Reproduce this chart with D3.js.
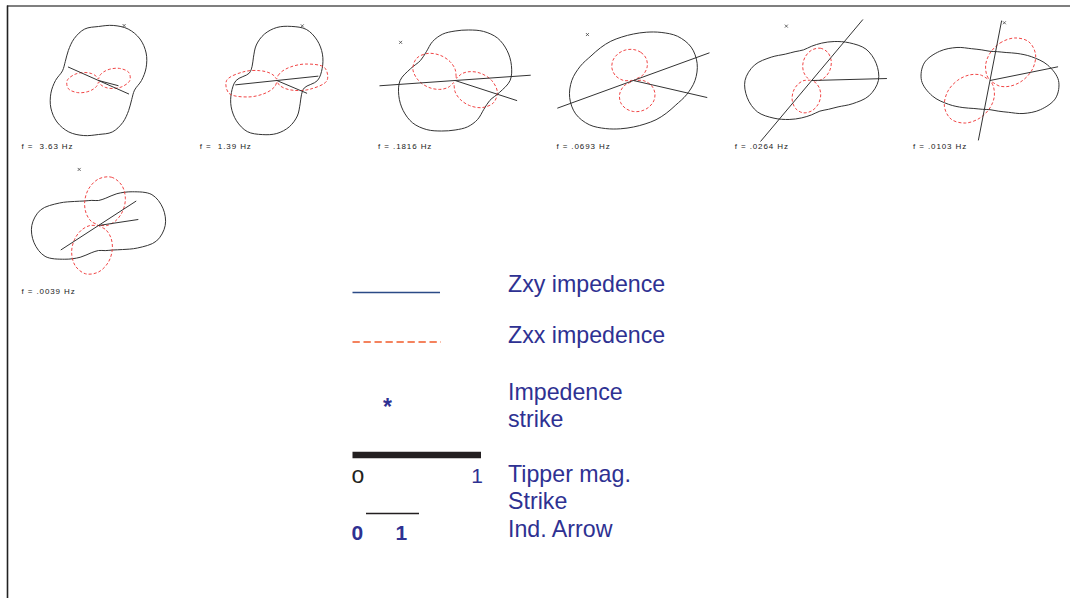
<!DOCTYPE html>
<html><head><meta charset="utf-8">
<script src="https://cdn.jsdelivr.net/npm/d3@7"></script>
<style>html,body{margin:0;padding:0;background:#fff;} svg{display:block;} text.pre{white-space:pre;}</style>
</head><body>
<svg id="chart" width="1070" height="598"></svg>
<script>
// ---- data ----
const freqLabels = ["f =  3.63 Hz","f =  1.39 Hz","f = .1816 Hz","f = .0693 Hz","f = .0264 Hz","f = .0103 Hz","f = .0039 Hz"];
// polar sample directions (degrees clockwise from north); diagrams repeat every 180 deg
const sampleAngles = [0,15,30,45,60,75,90,105,120,135,150,165];
const zxyRadius = [
  [54,57,59.4,58.7,55,49.3,43,37.3,38.3,42.6,48.5,53.3],
  [53,56,59,57,52.7,47,40.7,28.5,28.5,33,41,48],
  [49.5,52.3,56.7,60,60,58.3,55,46,40,40.7,45,48],
  [46.5,50,55.5,62.5,66.7,66,61.6,55,49,46.4,45.3,45],
  [34.3,38.7,45,53.3,62.7,66.7,66.7,59.3,46.7,37.3,33.3,31.7],
  [29.2,29.8,32.3,38.3,47.7,59.7,68.5,68,58.3,46.7,36.7,31.7],
  [25,28.3,36.7,47.7,61.7,66.7,66.7,60,45,34,28.3,26]
];
const zxxRadius = [
  [1.6,5.2,9.75,16.0,24.2,31.3,31.3,24.2,16.0,9.75,5.2,1.6],
  [1.6,5.3,10.6,19.0,32.9,49.5,50.2,34.0,19.7,11.0,5.6,1.8],
  [11.3,4.1,2.7,9.7,17.8,27.0,36.6,43.7,44.4,38.3,28.9,19.5],
  [31.0,29.1,25.5,19.5,11.0,0.7,9.7,18.5,24.8,28.8,30.8,31.5],
  [30.4,33.4,32.3,27.6,21.1,14.2,7.7,1.4,4.7,11.1,17.9,24.7],
  [27.3,38.8,49.1,54.8,52.6,44.0,32.6,21.4,11.3,2.1,6.9,16.6],
  [46.5,50,46.5,38.0,27.6,17.6,8.5,0,8.5,17.6,27.6,38.0]
];
const tipperMag = [0.52,0.65,1.18,1.26,1.24,0.95,0.70];
const tipperStrike = [114,84,86,70,40,11,57];
const arrowMag = [0.39,0.62,1.23,1.43,1.42,1.31,0.76];
const arrowAngle = [104.7,113,108,103,88.5,78.6,81.4];
const impStrike = [25,25,305,315,335,14,341];
const impStrikeR = [60.6,60.3,66.5,65,60,59.5,59.3];
const legendLabels = [["Zxy impedence"],["Zxx impedence"],["Impedence","strike"],["Tipper mag.","Strike"],["Ind. Arrow"]];

// ---- drawing ----
const svg = d3.select("#chart");
const nCols = 6;
const colX = d3.scaleLinear().domain([0, nCols-1]).range([98.5, 990]);
const rowY = d3.scaleLinear().domain([0, 1]).range([80.5, 225.5]);
const rScale = d3.scaleLinear().domain([0, 100]).range([0, 100]);
const aScale = d3.scaleLinear().domain([0, 360]).range([0, 2*Math.PI]);
const tipScale = d3.scaleLinear().domain([0, 1]).range([0, 128.5]);
const arrowScale = d3.scaleLinear().domain([0, 1]).range([0, 53]);
const FONT = "Liberation Sans, Arial, sans-serif";

// frame
svg.append("line").attr("x1",7).attr("x2",1070).attr("y1",6).attr("y2",6)
  .attr("stroke","#555").attr("stroke-width",1.3);
svg.append("line").attr("x1",7.5).attr("x2",7.5).attr("y1",5.4).attr("y2",598)
  .attr("stroke","#222").attr("stroke-width",1.6);

const radial = d3.lineRadial()
  .angle(d => aScale(d.a)).radius(d => rScale(d.r))
  .curve(d3.curveCatmullRomClosed.alpha(0.5));

function fullTurn(radii){
  const pts = [];
  for (let h = 0; h < 2; h++)
    sampleAngles.forEach((a,i) => pts.push({a: a + 180*h, r: radii[i]}));
  return pts;
}
function polar(angleDeg, r){
  const t = aScale(angleDeg);
  return [r*Math.sin(t), -r*Math.cos(t)];
}

freqLabels.forEach((lab, k) => {
  const cx = colX(k % nCols), cy = rowY(Math.floor(k / nCols));
  const g = svg.append("g").attr("transform", `translate(${cx},${cy})`);
  g.append("path").attr("d", radial(fullTurn(zxyRadius[k])))
    .attr("fill","none").attr("stroke","#333").attr("stroke-width",1);
  g.append("path").attr("d", radial(fullTurn(zxxRadius[k])))
    .attr("fill","none").attr("stroke","#ee3030").attr("stroke-width",0.9)
    .attr("stroke-dasharray","3,2");
  // tipper strike line (through the centre)
  const half = tipScale(tipperMag[k]) / 2;
  const p1 = polar(tipperStrike[k], half), p2 = polar(tipperStrike[k] + 180, half);
  g.append("line").attr("x1",p1[0]).attr("y1",p1[1]).attr("x2",p2[0]).attr("y2",p2[1])
    .attr("stroke","#333").attr("stroke-width",1);
  // induction arrow
  const q = polar(arrowAngle[k], arrowScale(arrowMag[k]));
  g.append("line").attr("x1",0).attr("y1",0).attr("x2",q[0]).attr("y2",q[1])
    .attr("stroke","#333").attr("stroke-width",1);
  // impedance strike marker
  const m = polar(impStrike[k], impStrikeR[k]);
  g.append("path").attr("transform",`translate(${m[0]},${m[1]})`)
    .attr("d", d3.symbol(d3.symbolTimes || d3.symbolX, 7)())
    .attr("fill","none").attr("stroke","#444").attr("stroke-width",0.8);
  // frequency label
  svg.append("text").attr("class","pre").attr("xml:space","preserve")
    .attr("x", cx - 77).attr("y", cy + 68)
    .attr("font-family",FONT).attr("font-size",8)
    .attr("letter-spacing",0.9).attr("fill","#222").text(lab);
});

// ---- legend ----
const blue = "#2e3192";
const lx0 = 352.5;
svg.append("line").attr("x1",lx0).attr("x2",440).attr("y1",292.5).attr("y2",292.5)
  .attr("stroke","#2b4a86").attr("stroke-width",1.6);
svg.append("line").attr("x1",lx0).attr("x2",441).attr("y1",342).attr("y2",342)
  .attr("stroke","#f15a29").attr("stroke-width",1.5).attr("stroke-dasharray","7.3,3.7");
svg.append("text").attr("x",383).attr("y",415).attr("font-family",FONT)
  .attr("font-size",23).attr("font-weight","bold").attr("fill",blue).text("*");
// tipper scale bar
svg.append("line").attr("x1",lx0 + tipScale(0)).attr("x2",lx0 + tipScale(1)).attr("y1",455).attr("y2",455)
  .attr("stroke","#231f20").attr("stroke-width",6.5);
svg.append("text").attr("x",351.5).attr("y",483).attr("font-family",FONT)
  .attr("font-size",23).attr("fill","#231f20").text("o");
svg.append("text").attr("x",lx0 + tipScale(1) + 2).attr("y",483).attr("text-anchor","end")
  .attr("font-family",FONT).attr("font-size",21).attr("fill",blue).text("1");
// induction arrow scale
const ax0 = 366;
svg.append("line").attr("x1",ax0 + arrowScale(0)).attr("x2",ax0 + arrowScale(1)).attr("y1",513.5).attr("y2",513.5)
  .attr("stroke","#231f20").attr("stroke-width",1.5);
svg.append("text").attr("x",351.5).attr("y",540).attr("font-family",FONT)
  .attr("font-size",21).attr("font-weight","bold").attr("fill",blue).text("0");
svg.append("text").attr("x",395.5).attr("y",540).attr("font-family",FONT)
  .attr("font-size",21).attr("font-weight","bold").attr("fill",blue).text("1");

const legendBaselines = [291.5, 343.3, 399.5, 481.5, 536.8];
legendLabels.forEach((lines, i) => {
  const t = svg.append("text").attr("x",508).attr("y",legendBaselines[i])
    .attr("font-family",FONT).attr("font-size",23.2).attr("fill",blue);
  lines.forEach((s, j) => t.append("tspan").attr("x",508).attr("dy", j ? 27.5 : 0).text(s));
});
</script>
</body></html>
